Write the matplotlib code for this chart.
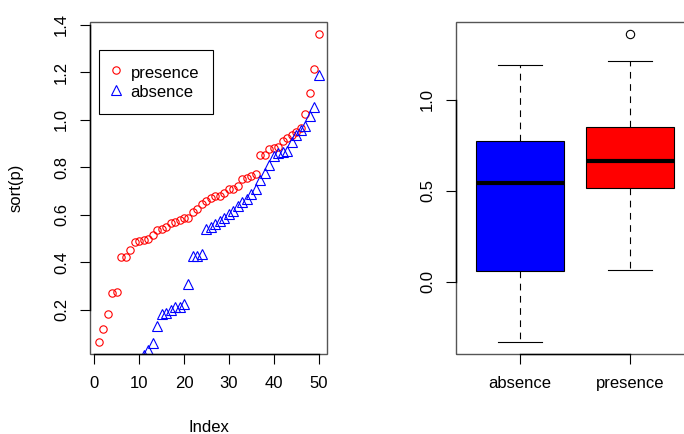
import matplotlib
matplotlib.use("Agg")
import matplotlib.pyplot as plt
import numpy as np
from matplotlib.patches import Rectangle

# sorted values (absence 1..11 fall below the left panel)
presence = [0.066, 0.117, 0.18, 0.27, 0.273, 0.42, 0.42, 0.45, 0.484, 0.49,
            0.492, 0.497, 0.515, 0.535, 0.54, 0.55, 0.565, 0.57, 0.578, 0.585,
            0.586, 0.61, 0.623, 0.645, 0.657, 0.67, 0.678, 0.68, 0.69, 0.707,
            0.71, 0.72, 0.75, 0.755, 0.762, 0.77, 0.85, 0.852, 0.877, 0.88,
            0.885, 0.91, 0.923, 0.935, 0.948, 0.965, 1.025, 1.113, 1.215, 1.36]
absence = [-0.33, -0.27, -0.22, -0.18, -0.14, -0.11, -0.08, -0.05, -0.03, -0.01,
           0.01, 0.032, 0.058, 0.13, 0.18, 0.185, 0.2, 0.21, 0.21, 0.222,
           0.307, 0.425, 0.425, 0.433, 0.54, 0.548, 0.56, 0.572, 0.585, 0.602,
           0.615, 0.636, 0.653, 0.665, 0.686, 0.71, 0.745, 0.775, 0.81, 0.847,
           0.86, 0.864, 0.87, 0.905, 0.935, 0.957, 0.974, 1.016, 1.054, 1.19]

group_names = ["absence", "presence"]
box_colors = ["blue", "red"]
left_xticks = [0, 10, 20, 30, 40, 50]
left_yticks = [0.2, 0.4, 0.6, 0.8, 1.0, 1.2, 1.4]
right_yticks = [0.0, 0.5, 1.0]

plt.rcParams['font.family'] = ['Liberation Sans', 'DejaVu Sans']
plt.rcParams['font.size'] = 12


def r_range(lo, hi):
    # R pads the data range by 4% on each side
    pad = 0.04 * (hi - lo)
    return lo - pad, hi + pad


def fivenum_stats(values, label):
    x = np.sort(np.asarray(values))
    n = len(x)
    n4 = np.floor((n + 3) / 2) / 2
    d = np.array([1, n4, (n + 1) / 2, n + 1 - n4, n]) - 1
    q = 0.5 * (x[np.floor(d).astype(int)] + x[np.ceil(d).astype(int)])
    iqr = q[3] - q[1]
    inside = x[(x >= q[1] - 1.5 * iqr) & (x <= q[3] + 1.5 * iqr)]
    fliers = x[(x < q[1] - 1.5 * iqr) | (x > q[3] + 1.5 * iqr)]
    return dict(label=label, med=q[2], q1=q[1], q3=q[3],
                whislo=inside.min(), whishi=inside.max(), fliers=fliers)


def r_frame(ax):
    # grey box around the plot, black axis lines between the end ticks
    for s in ax.spines.values():
        s.set_visible(False)
    ax.add_patch(Rectangle((0, 0), 1, 1, transform=ax.transAxes, fill=False,
                           edgecolor='#555555', lw=1.0, clip_on=False, zorder=5))
    for side in ('left', 'bottom'):
        ax.spines[side].set_visible(True)
        ax.spines[side].set_color('black')
        ax.spines[side].set_linewidth(1.0)
        ax.spines[side].set_zorder(6)
    ax.tick_params(direction='out', length=7.2, width=0.8, colors='black')
    ax.tick_params(axis='y', labelrotation=90, pad=8)
    ax.tick_params(axis='x', pad=9)
    for lab in ax.get_yticklabels():
        lab.set_va('center')


fig = plt.figure(figsize=(6.84, 4.34), dpi=100)

# left: sorted values
ax1 = fig.add_axes([90 / 684, 80.2 / 434, 237.3 / 684, 331.8 / 434])
idx = np.arange(1, len(presence) + 1)
ax1.plot(idx, presence, 'o', ms=5.3, mfc='none', mec='red', mew=0.8, label='presence')
ax1.plot(idx, absence, '^', ms=7, mfc='none', mec='blue', mew=0.8, label='absence')
ax1.set_xlim(r_range(1, len(presence)))
ax1.set_ylim(r_range(min(presence), max(presence)))
ax1.set_xticks(left_xticks)
ax1.set_yticks(left_yticks)
ax1.set_yticklabels([f"{v:.1f}" for v in left_yticks])
r_frame(ax1)
ax1.spines['bottom'].set_bounds(left_xticks[0], left_xticks[-1])
ax1.spines['left'].set_bounds(left_yticks[0], left_yticks[-1])
leg = ax1.legend(loc='upper left', bbox_to_anchor=(0.038, 0.9156), borderaxespad=0,
                 fancybox=False, framealpha=1, edgecolor='black', handlelength=0.4,
                 handleheight=1.2, handletextpad=0.7, borderpad=0.8, labelspacing=0.15)
leg.get_frame().set_linewidth(0.8)
fig.text(209 / 684, 1 - 427 / 434, "Index", ha='center', va='center')
fig.text(16 / 684, 1 - 188 / 434, "sort(p)", rotation=90, ha='center', va='center')

# right: boxplots
ax2 = fig.add_axes([456.2 / 684, 80.2 / 434, 237.6 / 684, 331.8 / 434])
stats = [fivenum_stats(absence, group_names[0]), fivenum_stats(presence, group_names[1])]
bp = ax2.bxp(stats, positions=[1, 2], widths=0.8, capwidths=0.4, patch_artist=True,
             boxprops=dict(edgecolor='black', linewidth=0.8),
             medianprops=dict(color='black', linewidth=3),
             whiskerprops=dict(color='black', linewidth=0.8, linestyle=(0, (6, 5))),
             capprops=dict(color='black', linewidth=0.8),
             flierprops=dict(marker='o', mfc='none', mec='black', ms=6, mew=0.8))
for patch, c in zip(bp['boxes'], box_colors):
    patch.set_facecolor(c)
allv = absence + presence
ax2.set_xlim(r_range(0.5, 2.5))
ax2.set_ylim(r_range(min(allv), max(allv)))
ax2.set_yticks(right_yticks)
ax2.set_yticklabels([f"{v:.1f}" for v in right_yticks])
r_frame(ax2)
ax2.spines['bottom'].set_bounds(1, 2)
ax2.spines['left'].set_bounds(right_yticks[0], right_yticks[-1])

fig.savefig("out.png", dpi=100)
